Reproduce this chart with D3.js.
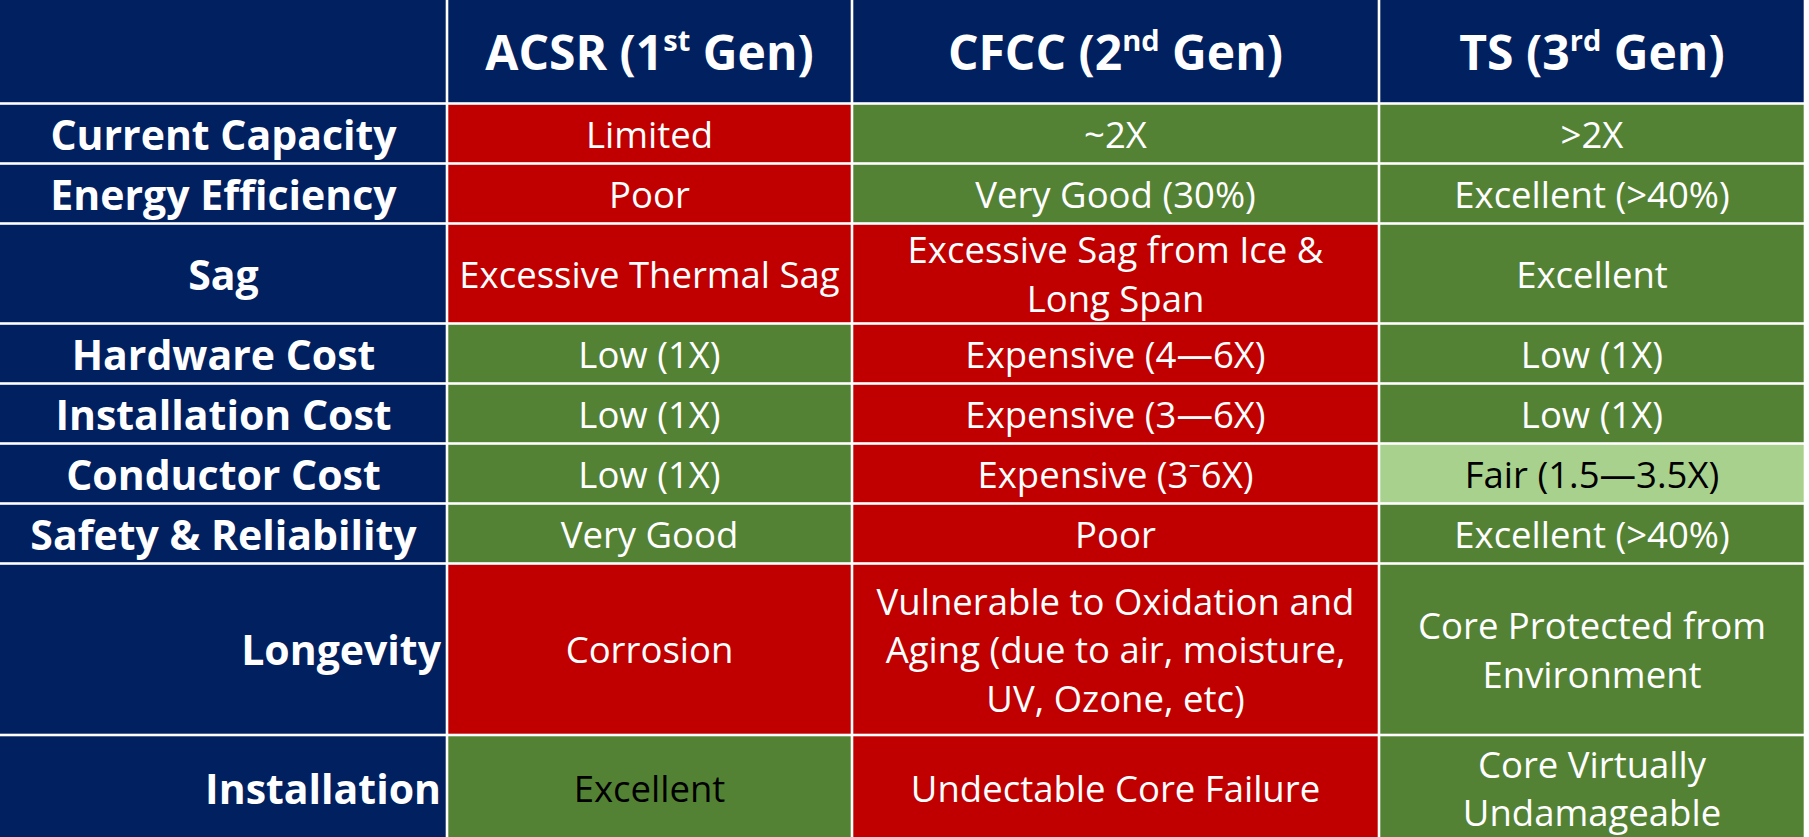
<!DOCTYPE html>
<html>
<head>
<meta charset="utf-8">
<script src="https://cdn.jsdelivr.net/npm/d3@7"></script>
<style>
  body { margin: 0; background: #ffffff; overflow: hidden; }
  text { font-family: "Open Sans", "Noto Sans", sans-serif; }
</style>
</head>
<body>
<div id="table"></div>
<script>
// conductor comparison data
var conductors = ["ACSR", "CFCC", "TS"];
var generations = ["1", "2", "3"];
var ordinals = ["st", "nd", "rd"];

var criteria = ["Current Capacity", "Energy Efficiency", "Sag", "Hardware Cost",
  "Installation Cost", "Conductor Cost", "Safety & Reliability", "Longevity", "Installation"];

var acsrValues = ["Limited", "Poor", "Excessive Thermal Sag", "Low (1X)", "Low (1X)",
  "Low (1X)", "Very Good", "Corrosion", "Excellent"];
var cfccValues = ["~2X", "Very Good (30%)", "Excessive Sag from Ice &\nLong Span", "Expensive (4\u20146X)",
  "Expensive (3\u20146X)", "Expensive (3\u207b6X)", "Poor",
  "Vulnerable to Oxidation and\nAging (due to air, moisture,\nUV, Ozone, etc)", "Undectable Core Failure"];
var tsValues = [">2X", "Excellent (>40%)", "Excellent", "Low (1X)", "Low (1X)",
  "Fair (1.5\u20143.5X)", "Excellent (>40%)", "Core Protected from\nEnvironment", "Core Virtually\nUndamageable"];

// rating of each cell: bad / good / fair
var acsrRating = ["bad", "bad", "bad", "good", "good", "good", "good", "bad", "good"];
var cfccRating = ["good", "good", "bad", "bad", "bad", "bad", "bad", "bad", "bad"];
var tsRating = ["good", "good", "good", "good", "good", "fair", "good", "good", "good"];

// layout (not data)
var svgWidth = 1809;
var svgHeight = 837;
var colWidths = [447, 405, 527, 426];
var headerHeight = 103.5;
var rowHeights = [60, 60, 100, 60, 60, 60, 60, 171.5, 106];
var gap = 2.6;
var lineGap = 48.5;

var colors = {
  head: "#002060",
  bad: "#C00000",
  good: "#548235",
  fair: "#A9D18E"
};
var rightLabels = ["Longevity", "Installation"];
var darkCells = ["8-0"];

var values = [acsrValues, cfccValues, tsValues];
var ratings = [acsrRating, cfccRating, tsRating];

var colEdges = [0].concat(Array.from(d3.cumsum(colWidths)));
var rowEdges = [0, headerHeight].concat(Array.from(d3.cumsum(rowHeights), d => d + headerHeight));

var x = d3.scaleOrdinal().domain(d3.range(colEdges.length)).range(colEdges);
var y = d3.scaleOrdinal().domain(d3.range(rowEdges.length)).range(rowEdges);

var svg = d3.select("#table")
  .append("svg")
  .attr("width", svgWidth)
  .attr("height", svgHeight);

svg.append("rect")
  .attr("width", svgWidth)
  .attr("height", svgHeight)
  .attr("fill", "#ffffff");

// build cells
var cells = [];
cells.push({ r: 0, c: 0, fill: colors.head, kind: "corner" });
conductors.forEach(function(name, i) {
  cells.push({ r: 0, c: i + 1, fill: colors.head, kind: "header", name: name, gen: generations[i], ord: ordinals[i] });
});
criteria.forEach(function(label, j) {
  cells.push({ r: j + 1, c: 0, fill: colors.head, kind: "label", text: label });
  conductors.forEach(function(name, i) {
    var rating = ratings[i][j];
    var dark = rating === "fair" || darkCells.indexOf(j + "-" + i) >= 0;
    cells.push({ r: j + 1, c: i + 1, fill: colors[rating], kind: "value", text: values[i][j], dark: dark });
  });
});

function cellLeft(d) { return x(d.c) + (d.c === 0 ? 0 : gap / 2); }
function cellRight(d) { return x(d.c + 1) - gap / 2; }
function cellTop(d) { return y(d.r) + (d.r === 0 ? 0 : gap / 2); }
function cellBottom(d) { return y(d.r + 1) - gap / 2; }

var cellGroup = svg.selectAll("g.cell")
  .data(cells)
  .enter()
  .append("g")
  .attr("class", "cell");

cellGroup.append("rect")
  .attr("x", d => cellLeft(d))
  .attr("y", d => cellTop(d))
  .attr("width", d => cellRight(d) - cellLeft(d))
  .attr("height", d => cellBottom(d) - cellTop(d))
  .attr("fill", d => d.fill);

// header titles with superscript ordinals
var headers = cellGroup.filter(d => d.kind === "header")
  .append("text")
  .attr("x", d => (x(d.c) + x(d.c + 1)) / 2)
  .attr("y", d => (y(0) + y(1)) / 2 + 18)
  .attr("text-anchor", "middle")
  .attr("fill", "#ffffff")
  .style("font-weight", "bold")
  .style("font-size", "48px");

headers.append("tspan").text(d => d.name + " (" + d.gen);
headers.append("tspan")
  .attr("dy", -19)
  .style("font-size", "29px")
  .text(d => d.ord);
headers.append("tspan")
  .attr("dy", 19)
  .text(" Gen)");

// row labels
cellGroup.filter(d => d.kind === "label")
  .append("text")
  .attr("x", d => rightLabels.indexOf(d.text) >= 0 ? x(1) - 6 : x(1) / 2)
  .attr("y", d => (y(d.r) + y(d.r + 1)) / 2)
  .attr("text-anchor", d => rightLabels.indexOf(d.text) >= 0 ? "end" : "middle")
  .attr("dominant-baseline", "central")
  .attr("fill", "#ffffff")
  .style("font-weight", "bold")
  .style("font-size", "41px")
  .text(d => d.text);

// value text, one tspan per line
var valueText = cellGroup.filter(d => d.kind === "value")
  .append("text")
  .attr("text-anchor", "middle")
  .attr("fill", d => d.dark ? "#000000" : "#ffffff")
  .style("font-size", "36.5px");

valueText.selectAll("tspan")
  .data(function(d) {
    var lines = d.text.split("\n");
    var cx = (x(d.c) + x(d.c + 1)) / 2;
    var cy = (y(d.r) + y(d.r + 1)) / 2;
    return lines.map(function(t, k) {
      return { t: t, x: cx, y: cy + (k - (lines.length - 1) / 2) * lineGap };
    });
  })
  .enter()
  .append("tspan")
  .attr("x", d => d.x)
  .attr("y", d => d.y)
  .attr("dominant-baseline", "central")
  .text(d => d.t);
</script>
</body>
</html>
